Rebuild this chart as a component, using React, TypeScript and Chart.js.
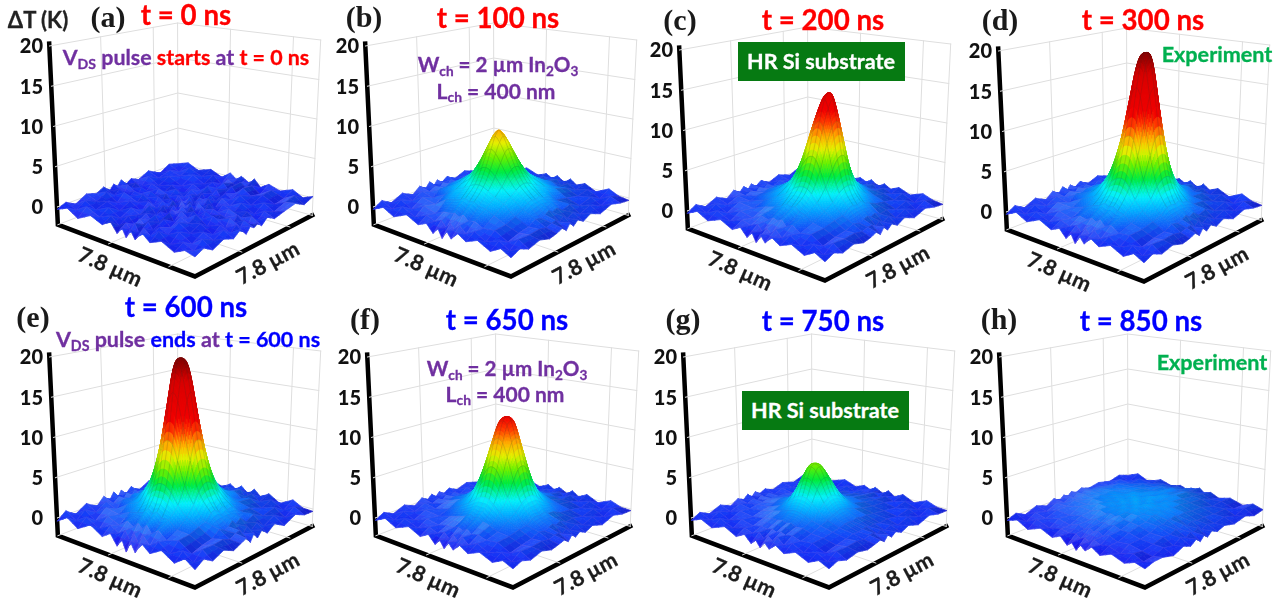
import React, { useEffect, useRef } from "react";
import { Chart, registerables } from "chart.js";

Chart.register(...registerables);

// Measurement positions across the 7.8 um square (um from the centre)
const gridUm = [-3.9, -3.32, -2.73, -2.0, -1.35, -0.88, -0.51, -0.24, 0, 0.24, 0.51, 0.88, 1.35, 2.0, 2.73, 3.32, 3.9];
const zTicks = [0, 5, 10, 15, 20];
const zFloor = -2.2;
const zTop = 20;
const wallFractionsLeft = [0.19, 0.6];
const wallFractionsRight = [0.37, 0.81];

// Temperature rise per panel, in tenths of a kelvin (rows back to front)
const dT_a = [
  [-1, 4, -3, 3, -4, 5, -2, 4, 1, -3, 5, -4, 3, -2, 4, -3, 2],
  [3, -4, 5, -2, 4, -5, 3, 0, -3, 4, -1, 3, -5, 4, -2, 5, -3],
  [-5, 3, -1, 5, -3, 2, -4, 5, -1, 3, -4, 5, -2, 3, -4, 2, 4],
  [4, -2, 4, -4, 3, -3, 5, -2, 4, -4, 2, -3, 5, -3, 4, -3, 1],
  [-3, 5, -3, 2, -5, 4, -1, 3, -5, 4, -2, 4, -2, 5, -4, 3, -2],
  [2, -4, 3, -3, 5, -2, 4, -4, 3, -1, 5, -5, 3, -2, 3, -4, 4],
  [-4, 3, -5, 4, -1, 3, -4, 5, -2, 3, -3, 4, -4, 5, -1, 4, -3],
  [5, -2, 3, -3, 4, -5, 2, -2, 4, -4, 5, -1, 3, -3, 4, -5, 2],
  [-2, 4, -4, 5, -2, 3, -3, 4, -1, 5, -3, 3, -4, 2, -3, 4, -1],
  [3, -5, 2, -1, 4, -3, 5, -4, 3, -2, 4, -5, 4, -2, 5, -2, 3],
  [-4, 2, -3, 5, -4, 4, -1, 3, -4, 5, -1, 3, -3, 5, -4, 3, -4],
  [4, -3, 5, -2, 3, -2, 4, -5, 2, -3, 4, -2, 5, -4, 2, -3, 5],
  [-1, 5, -4, 3, -5, 5, -3, 2, -4, 4, -5, 3, -1, 3, -5, 4, -2],
  [3, -2, 2, -4, 4, -1, 3, -3, 5, -2, 3, -4, 5, -3, 3, -2, 3],
  [-5, 4, -3, 5, -3, 3, -5, 4, -1, 4, -4, 2, -3, 4, -4, 5, -3],
  [2, -3, 5, -2, 4, -4, 2, -4, 5, -5, 3, -3, 5, -5, 2, -3, 4],
  [-3, 3, -5, 4, -2, 5, -6, 3, -7, 4, -6, 5, -3, 3, -4, 2, -1],
];
const dT_b = [
  [-2, 5, -3, 5, -1, 4, -1, 5, 1, -2, 5, -1, 4, -3, 5, -1, -3],
  [4, -2, 6, -1, 6, 2, 7, 3, 6, 8, 2, 6, 1, 5, -2, 4, -1],
  [-2, 5, -1, 7, 5, 9, 8, 12, 10, 10, 11, 7, 8, 2, 5, -2, 3],
  [4, 0, 7, 5, 15, 18, 21, 22, 22, 22, 20, 17, 14, 6, 1, 5, -2],
  [-2, 6, 3, 9, 22, 27, 32, 35, 36, 35, 32, 27, 22, 9, 8, 0, 4],
  [5, 1, 10, 17, 27, 36, 46, 52, 54, 52, 46, 36, 27, 17, 5, 6, -1],
  [-1, 7, 6, 20, 32, 46, 60, 70, 74, 70, 60, 46, 32, 19, 11, 2, 4],
  [5, 2, 12, 21, 35, 52, 70, 82, 88, 82, 70, 52, 35, 23, 8, 7, -1],
  [-2, 7, 8, 23, 36, 54, 74, 88, 94, 88, 74, 54, 36, 21, 12, 2, 5],
  [6, 1, 11, 22, 35, 52, 70, 82, 88, 82, 70, 52, 35, 22, 9, 6, -2],
  [-1, 6, 8, 19, 32, 46, 60, 70, 74, 70, 60, 46, 32, 21, 7, 5, 3],
  [5, 2, 9, 18, 27, 36, 46, 52, 54, 52, 46, 36, 27, 16, 9, 3, 0],
  [-3, 6, 2, 11, 22, 27, 32, 35, 36, 35, 32, 27, 22, 11, 4, 5, -2],
  [4, -1, 7, 4, 14, 17, 20, 23, 21, 22, 19, 18, 13, 7, 2, 4, 2],
  [-3, 5, -2, 7, 3, 8, 9, 11, 8, 12, 7, 9, 4, 6, -2, 5, -2],
  [4, -2, 5, -2, 5, 1, 5, -2, 5, -1, 6, -1, 5, -2, 4, -3, 3],
  [-3, 4, -3, 5, -2, 3, -6, 2, -8, 3, -5, 4, -2, 4, -3, 4, -2],
];
const dT_c = [
  [-2, 4, -2, 4, -1, 4, 0, 5, 1, -1, 4, -1, 4, -2, 4, -1, -3],
  [4, -2, 5, -1, 5, 1, 6, 2, 5, 6, 2, 5, 1, 5, -2, 4, -1],
  [-2, 5, -1, 6, 3, 8, 5, 11, 9, 9, 7, 7, 6, 2, 5, -2, 3],
  [4, 0, 6, 4, 11, 14, 18, 20, 20, 20, 18, 14, 10, 6, 1, 5, -2],
  [-2, 5, 3, 11, 18, 25, 33, 37, 38, 37, 33, 25, 18, 9, 6, 0, 4],
  [5, 1, 8, 14, 25, 40, 58, 69, 72, 69, 58, 40, 25, 14, 5, 6, -1],
  [-1, 6, 5, 18, 33, 58, 88, 106, 112, 106, 88, 58, 33, 17, 9, 2, 4],
  [5, 1, 10, 19, 37, 69, 106, 128, 138, 128, 106, 69, 37, 21, 7, 6, -1],
  [-2, 6, 7, 20, 38, 72, 112, 138, 145, 138, 112, 72, 38, 19, 10, 2, 5],
  [5, 1, 9, 20, 37, 69, 106, 128, 138, 128, 106, 69, 37, 20, 8, 5, -2],
  [-1, 5, 7, 17, 33, 58, 88, 106, 112, 106, 88, 58, 33, 19, 6, 5, 3],
  [5, 2, 6, 15, 25, 40, 58, 69, 72, 69, 58, 40, 25, 13, 8, 3, 0],
  [-3, 5, 3, 9, 18, 25, 33, 37, 38, 37, 33, 25, 18, 11, 4, 5, -2],
  [4, -1, 6, 4, 10, 13, 17, 21, 19, 21, 17, 15, 9, 7, 2, 4, 2],
  [-3, 5, -2, 6, 2, 8, 6, 10, 8, 11, 5, 9, 3, 6, -2, 5, -2],
  [4, -2, 5, -2, 4, 1, 5, -2, 4, -1, 6, -1, 5, -2, 4, -3, 3],
  [-3, 4, -3, 4, -3, 3, -6, 2, -8, 3, -5, 4, -2, 4, -3, 4, -2],
];
const dT_d = [
  [-2, 5, -3, 5, -1, 4, -1, 5, 1, -2, 5, -1, 4, -3, 5, -1, -3],
  [4, -2, 6, -1, 6, 2, 7, 3, 6, 8, 2, 6, 1, 5, -2, 4, -1],
  [-2, 5, -1, 7, 4, 10, 6, 12, 10, 10, 11, 7, 8, 2, 5, -2, 3],
  [4, 0, 7, 5, 12, 15, 20, 22, 22, 22, 20, 16, 10, 8, 1, 5, -2],
  [-2, 6, 3, 12, 20, 30, 42, 48, 50, 48, 42, 30, 21, 10, 8, 0, 4],
  [5, 1, 10, 15, 30, 50, 76, 94, 98, 94, 76, 50, 30, 17, 5, 6, -1],
  [-1, 7, 6, 21, 42, 76, 115, 145, 155, 145, 115, 76, 42, 19, 11, 2, 4],
  [5, 2, 12, 21, 48, 94, 145, 180, 190, 180, 145, 94, 48, 23, 8, 7, -1],
  [-2, 7, 8, 23, 50, 98, 155, 190, 196, 190, 155, 98, 50, 21, 12, 2, 5],
  [6, 1, 11, 22, 48, 94, 145, 180, 190, 180, 145, 94, 48, 22, 9, 6, -2],
  [-1, 6, 8, 19, 42, 76, 115, 145, 155, 145, 115, 76, 42, 21, 7, 5, 3],
  [5, 2, 9, 16, 30, 50, 76, 94, 98, 94, 76, 50, 30, 15, 9, 3, 0],
  [-3, 6, 2, 12, 20, 30, 42, 48, 50, 48, 42, 30, 20, 11, 4, 5, -2],
  [4, -1, 7, 6, 11, 16, 19, 23, 21, 22, 19, 17, 10, 7, 2, 4, 2],
  [-3, 5, -2, 7, 3, 9, 7, 11, 8, 12, 6, 10, 4, 6, -2, 5, -2],
  [4, -2, 5, -2, 5, 1, 5, -2, 5, -1, 6, -1, 5, -2, 4, -3, 3],
  [-3, 4, -3, 5, -2, 3, -6, 2, -8, 3, -5, 4, -2, 4, -3, 4, -2],
];
const dT_e = [
  [-3, 5, -4, 6, -2, 5, -1, 6, 1, -3, 6, -2, 5, -4, 5, -2, -3],
  [5, -3, 7, -2, 7, 1, 8, 2, 7, 9, 1, 7, 0, 6, -3, 5, -2],
  [-3, 6, -2, 8, 3, 11, 5, 13, 10, 11, 12, 6, 9, 1, 6, -3, 4],
  [5, -1, 8, 4, 13, 14, 21, 22, 23, 22, 21, 15, 11, 7, 2, 6, -3],
  [-3, 7, 2, 13, 20, 31, 43, 49, 51, 49, 43, 31, 21, 9, 9, -1, 5],
  [6, 0, 11, 14, 31, 51, 78, 96, 100, 96, 78, 51, 31, 18, 4, 7, -2],
  [-2, 8, 5, 22, 43, 78, 117, 147, 157, 147, 117, 78, 43, 18, 12, 1, 5],
  [6, 1, 13, 20, 49, 96, 147, 182, 191, 182, 147, 96, 49, 24, 7, 8, -2],
  [-3, 8, 7, 24, 51, 100, 157, 191, 197, 191, 157, 100, 51, 20, 13, 1, 6],
  [7, 0, 12, 21, 49, 96, 147, 182, 191, 182, 147, 96, 49, 23, 8, 7, -3],
  [-2, 7, 7, 20, 43, 78, 117, 147, 157, 147, 117, 78, 43, 22, 6, 6, 4],
  [6, 1, 10, 15, 31, 51, 78, 96, 100, 96, 78, 51, 31, 14, 10, 2, 1],
  [-4, 7, 1, 13, 20, 31, 43, 49, 51, 49, 43, 31, 20, 12, 3, 6, -3],
  [5, -2, 8, 5, 12, 15, 18, 24, 20, 23, 18, 18, 9, 8, 1, 5, 3],
  [-4, 6, -3, 8, 2, 10, 6, 12, 7, 13, 5, 11, 3, 7, -3, 6, -3],
  [5, -3, 6, -3, 6, 0, 6, -4, 6, -4, 7, -2, 6, -3, 5, -4, 4],
  [-4, 5, -4, 6, -3, 4, -8, 2, -11, 3, -8, 5, -3, 5, -4, 5, -3],
];
const dT_f = [
  [-2, 4, -2, 4, -2, 4, -1, 4, 1, -2, 4, -2, 4, -3, 4, -1, -2],
  [4, -3, 5, -2, 5, 1, 5, 2, 4, 5, 1, 5, 0, 4, -2, 3, -1],
  [-2, 4, -1, 5, 3, 6, 5, 8, 7, 8, 6, 5, 5, 1, 4, -2, 3],
  [3, 0, 5, 3, 8, 11, 14, 16, 16, 16, 14, 11, 8, 5, 1, 4, -2],
  [-2, 5, 2, 11, 15, 22, 29, 33, 34, 33, 29, 22, 15, 7, 5, 0, 3],
  [4, 0, 7, 11, 22, 36, 54, 65, 68, 65, 54, 36, 22, 12, 4, 5, -1],
  [-1, 5, 4, 14, 29, 54, 80, 96, 100, 96, 80, 54, 29, 13, 8, 1, 3],
  [4, 1, 8, 15, 33, 65, 96, 116, 120, 116, 96, 65, 33, 17, 6, 5, -1],
  [-2, 5, 6, 17, 34, 68, 100, 120, 124, 120, 100, 68, 34, 15, 9, 1, 4],
  [4, 0, 8, 16, 33, 65, 96, 116, 120, 116, 96, 65, 33, 16, 7, 4, -2],
  [-1, 4, 6, 13, 29, 54, 80, 96, 100, 96, 80, 54, 29, 15, 5, 4, 2],
  [4, 1, 5, 12, 22, 36, 54, 65, 68, 65, 54, 36, 22, 10, 7, 2, 0],
  [-3, 5, 2, 7, 15, 22, 29, 33, 34, 33, 29, 22, 15, 9, 3, 4, -2],
  [3, -1, 5, 3, 7, 10, 13, 17, 15, 17, 13, 11, 7, 6, 1, 3, 2],
  [-3, 4, -2, 5, 2, 5, 5, 7, 5, 8, 4, 6, 3, 5, -2, 4, -2],
  [3, -2, 4, -2, 4, 0, 4, -2, 4, -1, 5, -1, 4, -2, 3, -3, 2],
  [-3, 4, -3, 4, -3, 3, -6, 1, -7, 2, -5, 3, -3, 3, -3, 3, -2],
];
const dT_g = [
  [-2, 4, -2, 4, -2, 3, -1, 4, 1, -2, 4, -2, 4, -3, 4, -1, -2],
  [3, -3, 4, -2, 4, 0, 4, 2, 3, 5, 1, 4, 0, 4, -2, 3, -1],
  [-2, 4, -1, 4, 2, 5, 4, 6, 5, 7, 5, 5, 4, 1, 4, -2, 3],
  [3, 0, 4, 3, 6, 9, 9, 10, 9, 10, 9, 8, 6, 4, 1, 4, -2],
  [-2, 4, 2, 8, 9, 12, 15, 17, 18, 17, 15, 12, 9, 6, 4, 0, 3],
  [3, 0, 4, 7, 12, 20, 27, 31, 32, 31, 27, 20, 12, 8, 3, 4, -1],
  [-1, 4, 4, 8, 15, 27, 41, 49, 52, 49, 41, 27, 15, 8, 5, 1, 3],
  [4, 1, 5, 9, 17, 31, 49, 60, 64, 60, 49, 31, 17, 10, 4, 4, -1],
  [-2, 4, 5, 10, 18, 32, 52, 64, 66, 64, 52, 32, 18, 8, 6, 1, 4],
  [4, 0, 5, 10, 17, 31, 49, 60, 64, 60, 49, 31, 17, 9, 5, 4, -2],
  [-1, 4, 4, 8, 15, 27, 41, 49, 52, 49, 41, 27, 15, 9, 4, 4, 2],
  [3, 1, 4, 6, 12, 20, 27, 31, 32, 31, 27, 20, 12, 7, 5, 2, 0],
  [-3, 4, 2, 5, 9, 12, 15, 17, 18, 17, 15, 12, 9, 6, 3, 4, -2],
  [3, -1, 4, 2, 5, 8, 8, 10, 8, 10, 7, 8, 5, 4, 1, 3, 1],
  [-3, 4, -2, 4, 1, 4, 3, 5, 3, 5, 3, 5, 2, 4, -2, 4, -2],
  [3, -2, 4, -2, 3, 0, 4, -2, 3, -1, 5, -1, 4, -2, 3, -3, 2],
  [-3, 3, -3, 4, -3, 3, -5, 1, -6, 2, -4, 3, -3, 3, -3, 3, -2],
];
const dT_h = [
  [-2, 4, -3, 4, -1, 3, 0, 3, 3, 6, 1, 4, -1, 3, -2, 3, -1],
  [3, -2, 5, 3, 7, 5, 8, 6, 9, 7, 6, 7, 3, 4, -1, 3, -3],
  [-1, 5, 4, 8, 8, 11, 10, 12, 10, 11, 12, 9, 8, 3, 4, -1, 2],
  [3, 3, 9, 10, 12, 12, 13, 15, 14, 13, 14, 12, 10, 8, 4, 4, -1],
  [0, 6, 9, 12, 14, 14, 16, 14, 15, 17, 15, 14, 13, 9, 6, 2, 3],
  [4, 6, 11, 13, 14, 17, 15, 16, 18, 16, 14, 16, 13, 11, 6, 5, 0],
  [0, 8, 10, 14, 15, 16, 18, 17, 15, 18, 16, 15, 15, 10, 8, 2, 4],
  [4, 5, 12, 12, 16, 15, 17, 19, 17, 14, 17, 16, 13, 12, 5, 6, -1],
  [-1, 8, 9, 14, 14, 17, 16, 17, 19, 16, 18, 14, 15, 10, 8, 3, 3],
  [3, 4, 11, 11, 15, 14, 18, 15, 16, 18, 15, 16, 13, 11, 5, 5, -2],
  [-2, 6, 7, 13, 13, 16, 14, 17, 15, 16, 17, 13, 14, 8, 7, 1, 3],
  [3, 2, 9, 9, 14, 13, 15, 14, 16, 14, 14, 14, 10, 9, 4, 4, -2],
  [-3, 5, 5, 10, 9, 13, 11, 13, 11, 14, 11, 10, 9, 5, 5, -1, 2],
  [2, -1, 5, 4, 8, 6, 10, 7, 9, 7, 9, 6, 6, 3, 2, 2, -3],
  [-4, 3, 0, 5, 2, 6, 3, 6, 3, 6, 2, 5, 1, 3, 0, -2, 1],
  [2, -4, 3, -2, 2, 0, 2, -2, 1, -2, 2, -1, 1, -3, 2, -3, 1],
  [-3, 2, -5, 2, -4, 1, -7, -2, -9, -1, -6, 1, -5, 1, -4, 1, -2],
];

const panelTimes = ["0", "100", "200", "300", "600", "650", "750", "850"];
const panelLetters = ["(a)", "(b)", "(c)", "(d)", "(e)", "(f)", "(g)", "(h)"];
const panelGrids = [dT_a, dT_b, dT_c, dT_d, dT_e, dT_f, dT_g, dT_h];

// ---- layout (pixels of the page) ----
const CANVAS_W = 345;
const CANVAS_H = 290;
const AXIS_W = 47;
const Z0_PX = 208;
const PX_PER_K = 8.05;
const panelDx = [0, 316, 630, 949, 0, 318, 634, 950];
const panelDy = [0, 0, 4, 5, 311, 311, 311, 311];
const peakShift = [0, -1.5, 6.5, 5.5, -2.5, 1.5, -2.5, 0];

const cornerB = { x: 178, y: 163, h: 7 };
const cornerR = { x: 313, y: 198, h: 7.9 };
const cornerL = { x: 57, y: 207, h: 8.05 };
const cornerF = { x: 195, y: 256, h: 9.3 };

function bil(u: number, v: number, k: "x" | "y" | "h") {
  return (1 - u) * (1 - v) * cornerB[k] + u * (1 - v) * cornerR[k] + (1 - u) * v * cornerL[k] + u * v * cornerF[k];
}
function project(u: number, v: number, z: number) {
  const x0 = bil(u, v, "x");
  const y0 = bil(u, v, "y");
  const h = bil(u, v, "h");
  return { x: x0 + (x0 - 185) * 0.003 * z, y: (Z0_PX - (y0 - z * h)) / PX_PER_K };
}
function surfaceXY(uUm: number, vUm: number, z: number, d: number) {
  const w = (1 - Math.abs(uUm) / 3.9) * (1 - Math.abs(vUm) / 3.9) * 2;
  return project((uUm + 3.9) / 7.8 + d * w, (vUm + 3.9) / 7.8 - d * w, z);
}

const colorStops: [number, number, number, number][] = [
  [-1.2, 30, 5, 205],
  [-0.3, 25, 30, 240],
  [0.3, 20, 65, 248],
  [1, 15, 110, 248],
  [2, 0, 175, 255],
  [3.2, 0, 240, 250],
  [4, 0, 240, 170],
  [5, 0, 235, 60],
  [6.5, 110, 240, 0],
  [8, 230, 240, 0],
  [9.5, 255, 170, 0],
  [11, 255, 60, 0],
  [12.5, 240, 0, 0],
  [17, 215, 0, 0],
  [19, 150, 0, 0],
  [20.5, 110, 10, 10],
];
function jet(z: number, light: number) {
  let a = colorStops[0];
  let b = colorStops[colorStops.length - 1];
  if (z <= a[0]) b = a;
  else if (z >= b[0]) a = b;
  else
    for (let i = 0; i < colorStops.length - 1; i++) {
      if (z >= colorStops[i][0] && z <= colorStops[i + 1][0]) {
        a = colorStops[i];
        b = colorStops[i + 1];
        break;
      }
    }
  const t = a === b ? 0 : (z - a[0]) / (b[0] - a[0]);
  const mix = (i: number) => {
    const c = a[i] + (b[i] - a[i]) * t;
    return Math.round(light >= 0 ? c + (255 - c) * light : c * (1 + light));
  };
  return `rgb(${mix(1)},${mix(2)},${mix(3)})`;
}

// Smooth mesh shading between the measured nodes
function cubic(vals: (i: number) => number, i: number, t: number, last: number) {
  const h = gridUm[i + 1] - gridUm[i];
  const p0 = vals(i);
  const p1 = vals(i + 1);
  const m0 = i > 0 ? (p1 - vals(i - 1)) / (gridUm[i + 1] - gridUm[i - 1]) : (p1 - p0) / h;
  const m1 = i + 1 < last ? (vals(i + 2) - p0) / (gridUm[i + 2] - gridUm[i]) : (p1 - p0) / h;
  const t2 = t * t;
  const t3 = t2 * t;
  return (2 * t3 - 3 * t2 + 1) * p0 + (t3 - 2 * t2 + t) * h * m0 + (-2 * t3 + 3 * t2) * p1 + (t3 - t2) * h * m1;
}

const surfacePlugin = {
  id: "surface3d",
  afterDatasetsDraw(chart: any) {
    const { grid, shift } = chart.options.plugins.surface3d;
    const pts = chart.getDatasetMeta(0).data;
    const n = grid.length;
    const ctx = chart.ctx;
    const sx = chart.scales.x;
    const sy = chart.scales.y;
    const quad = (a: any, b: any, c: any, d: any, col: string) => {
      ctx.beginPath();
      ctx.moveTo(a.x, a.y);
      ctx.lineTo(b.x, b.y);
      ctx.lineTo(c.x, c.y);
      ctx.lineTo(d.x, d.y);
      ctx.closePath();
      ctx.fillStyle = col;
      ctx.strokeStyle = col;
      ctx.lineWidth = 0.7;
      ctx.fill();
      ctx.stroke();
    };
    ctx.save();
    ctx.lineJoin = "round";
    for (let r = 0; r < n - 1; r++) {
      for (let c = 0; c < n - 1; c++) {
        const z00 = grid[r][c] / 10;
        const z01 = grid[r][c + 1] / 10;
        const z10 = grid[r + 1][c] / 10;
        const z11 = grid[r + 1][c + 1] / 10;
        const zAvg = (z00 + z01 + z10 + z11) / 4;
        const zMax = Math.max(z00, z01, z10, z11);
        if (zMax >= 1.5) {
          const SUB = 5;
          const table: { x: number; y: number; z: number }[][] = [];
          for (let i = 0; i <= SUB; i++) {
            const row: { x: number; y: number; z: number }[] = [];
            for (let j = 0; j <= SUB; j++) {
              const s = j / SUB;
              const t = i / SUB;
              const rowAt = (rr: number) => cubic((k) => grid[rr][k], c, s, n - 1);
              const z = cubic(rowAt, r, t, n - 1) / 10;
              const uUm = gridUm[c] + (gridUm[c + 1] - gridUm[c]) * s;
              const vUm = gridUm[r] + (gridUm[r + 1] - gridUm[r]) * t;
              const q = surfaceXY(uUm, vUm, z, shift);
              row.push({ x: sx.getPixelForValue(q.x), y: sy.getPixelForValue(q.y), z });
            }
            table.push(row);
          }
          for (let i = 0; i < SUB; i++) {
            for (let j = 0; j < SUB; j++) {
              const a = table[i][j];
              const b = table[i][j + 1];
              const d = table[i + 1][j + 1];
              const e = table[i + 1][j];
              quad(a, b, d, e, jet((a.z + b.z + d.z + e.z) / 4, 0));
            }
          }
          ctx.beginPath();
          ctx.moveTo(table[SUB][0].x, table[SUB][0].y);
          for (let i = SUB - 1; i >= 0; i--) ctx.lineTo(table[i][0].x, table[i][0].y);
          for (let j = 1; j <= SUB; j++) ctx.lineTo(table[0][j].x, table[0][j].y);
          ctx.strokeStyle = zAvg > 2.5 ? "rgba(40,50,40,0.28)" : "rgba(120,110,190,0.2)";
          ctx.lineWidth = 0.6;
          ctx.stroke();
        } else {
          const p00 = pts[r * n + c];
          const p01 = pts[r * n + c + 1];
          const p10 = pts[(r + 1) * n + c];
          const p11 = pts[(r + 1) * n + c + 1];
          const du = gridUm[c + 1] - gridUm[c];
          const dv = gridUm[r + 1] - gridUm[r];
          const slope = ((z01 + z11 - z00 - z10) / 2 / du - (z10 + z11 - z00 - z01) / 2 / dv) * 0.14;
          const light = Math.max(-0.14, Math.min(0.16, slope));
          const SUB = 2;
          const at = (s: number, t: number) => ({
            x: (1 - s) * (1 - t) * p00.x + s * (1 - t) * p01.x + (1 - s) * t * p10.x + s * t * p11.x,
            y: (1 - s) * (1 - t) * p00.y + s * (1 - t) * p01.y + (1 - s) * t * p10.y + s * t * p11.y,
          });
          for (let i = 0; i < SUB; i++) {
            for (let j = 0; j < SUB; j++) {
              const s0 = j / SUB;
              const s1 = (j + 1) / SUB;
              const t0 = i / SUB;
              const t1 = (i + 1) / SUB;
              const sm = (s0 + s1) / 2;
              const tm = (t0 + t1) / 2;
              const z = (1 - sm) * (1 - tm) * z00 + sm * (1 - tm) * z01 + (1 - sm) * tm * z10 + sm * tm * z11;
              quad(at(s0, t0), at(s1, t0), at(s1, t1), at(s0, t1), jet(z, light));
            }
          }
          ctx.beginPath();
          ctx.moveTo(p00.x, p00.y);
          ctx.lineTo(p01.x, p01.y);
          ctx.lineTo(p11.x, p11.y);
          ctx.lineTo(p10.x, p10.y);
          ctx.closePath();
          ctx.strokeStyle = "rgba(170,110,200,0.2)";
          ctx.lineWidth = 0.6;
          ctx.stroke();
        }
      }
    }
    ctx.restore();
  },
};

function lineDs(points: { x: number; y: number }[], color: string, width: number) {
  return {
    type: "scatter" as const,
    data: points,
    showLine: true,
    pointRadius: 0,
    borderColor: color,
    borderWidth: width,
    borderJoinStyle: "miter" as const,
    borderCapStyle: "square" as const,
    clip: false as any,
  };
}

function Panel({ idx }: { idx: number }) {
  const ref = useRef<HTMLCanvasElement>(null);
  useEffect(() => {
    const grid = panelGrids[idx];
    const shift = peakShift[idx] / 256;
    const surface: { x: number; y: number }[] = [];
    gridUm.forEach((vUm, r) => {
      gridUm.forEach((uUm, c) => {
        surface.push(surfaceXY(uUm, vUm, grid[r][c] / 10, shift));
      });
    });
    const wall = "#dedede";
    const ds: any[] = [
      { type: "scatter", data: surface, pointRadius: 0, showLine: false, clip: false },
    ];
    zTicks.forEach((z) => {
      ds.push(lineDs([project(0, 1, z), project(0, 0, z), project(1, 0, z)], wall, 1));
    });
    [...wallFractionsLeft, 0].forEach((f) => {
      ds.push(lineDs([project(0, f, zFloor), project(0, f, zTop)], wall, 1));
    });
    [...wallFractionsRight, 1].forEach((f) => {
      ds.push(lineDs([project(f, 0, zFloor), project(f, 0, zTop)], wall, 1));
    });
    wallFractionsLeft.forEach((f) => {
      ds.push(lineDs([project(0, f, zFloor), project(1, f, zFloor)], wall, 1));
    });
    wallFractionsRight.forEach((f) => {
      ds.push(lineDs([project(f, 0, zFloor), project(f, 1, zFloor)], wall, 1));
    });
    ds.push(lineDs([project(0, 0, zFloor), project(0, 1, zFloor)], wall, 1));
    ds.push(lineDs([project(0, 0, zFloor), project(1, 0, zFloor)], wall, 1));
    ds.push(
      lineDs(
        [project(0, 1, zTop + 0.3), project(0, 1, zFloor), project(1, 1, zFloor), project(1, 0, zFloor)],
        "#000",
        4.5
      )
    );

    const chart = new Chart(ref.current as HTMLCanvasElement, {
      type: "scatter",
      data: { datasets: ds },
      plugins: [surfacePlugin as any],
      options: {
        animation: false,
        responsive: false,
        events: [],
        layout: { padding: 0 },
        plugins: {
          legend: { display: false },
          tooltip: { enabled: false },
          surface3d: { grid, shift },
        } as any,
        scales: {
          x: { type: "linear", display: false, min: AXIS_W, max: CANVAS_W },
          y: {
            type: "linear",
            min: (Z0_PX - CANVAS_H) / PX_PER_K,
            max: Z0_PX / PX_PER_K,
            grid: { display: false, drawTicks: false },
            border: { display: false },
            afterBuildTicks: (s: any) => {
              s.ticks = zTicks.map((value) => ({ value }));
            },
            afterFit: (s: any) => {
              s.width = AXIS_W;
              s.paddingTop = 0;
              s.paddingBottom = 0;
            },
            ticks: {
              padding: 4,
              autoSkip: false,
              color: "#111",
              font: { family: "Lato", weight: "900", size: 20 },
              callback: (v: any) => String(v),
            },
          },
        },
      },
    });
    return () => chart.destroy();
  }, [idx]);
  return (
    <canvas
      ref={ref}
      width={CANVAS_W}
      height={CANVAS_H}
      style={{ position: "absolute", left: panelDx[idx], top: panelDy[idx], width: CANVAS_W, height: CANVAS_H, display: "block" }}
    />
  );
}

const PURPLE = "#7030A0";
const RED = "#FF0000";
const BLUE = "#0000FF";
const EXPERIMENT = "#00B050";
const BOXGREEN = "#067A12";

function T({ x, y, size, color, rot, serif, children }: any) {
  return (
    <div
      style={{
        position: "absolute",
        left: x,
        top: y,
        transform: `translate(-50%,-50%)${rot ? ` rotate(${rot}deg)` : ""}`,
        whiteSpace: "nowrap",
        fontFamily: serif ? "'Liberation Serif'" : "Lato",
        fontWeight: 700,
        fontSize: size,
        lineHeight: 1,
        color,
        WebkitTextStroke: serif ? undefined : "0.3px currentColor",
      }}
    >
      {children}
    </div>
  );
}
const Sub = ({ children }: any) => (
  <span style={{ fontSize: "0.66em", verticalAlign: "-0.28em", lineHeight: 0 }}>{children}</span>
);

const titleX = [186, 498, 823, 1143, 186, 507, 823, 1141];
const titleY = [15, 18, 20, 20, 307, 320, 321, 321];
const letterX = [108, 364, 680, 1000, 33, 365, 683, 999];
const letterY = [17, 17, 20, 20, 317, 319, 319, 319];

function GeometryText() {
  return (
    <>
      <T x={38} y={20} size={22} color="#222">ΔT (K)</T>
      <T x={186} y={58} size={21.4} color={PURPLE}>
        V<Sub>DS</Sub> pulse <span style={{ color: RED }}>starts</span> at <span style={{ color: RED }}>t = 0 ns</span>
      </T>
      <T x={188} y={340} size={21.5} color={PURPLE}>
        V<Sub>DS</Sub> pulse <span style={{ color: BLUE }}>ends</span> at <span style={{ color: BLUE }}>t = 600 ns</span>
      </T>
      {[[498, 64, 496, 90], [507, 368, 505, 393]].map(([x1, y1, x2, y2], i) => (
        <React.Fragment key={i}>
          <T x={x1} y={y1} size={20.6} color={PURPLE}>W<Sub>ch</Sub> = 2 µm In<Sub>2</Sub>O<Sub>3</Sub></T>
          <T x={x2} y={y2} size={21} color={PURPLE}>L<Sub>ch</Sub> = 400 nm</T>
        </React.Fragment>
      ))}
      {[[738, 42], [742, 391]].map(([x, y], i) => (
        <div key={i} style={{ position: "absolute", left: x, top: y, width: 167, height: 39, background: BOXGREEN }}>
          <T x={83} y={20} size={21.6} color="#fff">HR Si substrate</T>
        </div>
      ))}
      <T x={1217} y={55} size={21.6} color={EXPERIMENT}>Experiment</T>
      <T x={1212} y={363} size={21.6} color={EXPERIMENT}>Experiment</T>
    </>
  );
}

export default function App() {
  return (
    <div style={{ position: "absolute", left: 0, top: 0, width: 1279, height: 599, overflow: "hidden", background: "#fff", filter: "blur(0.35px)" }}>
      {panelGrids.map((_, i) => (
        <Panel key={i} idx={i} />
      ))}
      {panelTimes.map((t, i) => (
        <T key={t} x={titleX[i]} y={titleY[i]} size={27.7} color={i < 4 ? RED : BLUE}>{`t = ${t} ns`}</T>
      ))}
      {panelLetters.map((l, i) => (
        <T key={l} x={letterX[i]} y={letterY[i]} size={30} color="#1a1a1a" serif>{l}</T>
      ))}
      {panelDx.map((dx, i) => (
        <React.Fragment key={i}>
          <T x={dx + 110} y={panelDy[i] + 267} size={21.5} color="#1c1c1c" rot={24}>7.8 µm</T>
          <T x={dx + 268} y={panelDy[i] + 263} size={21.5} color="#1c1c1c" rot={-28}>7.8 µm</T>
        </React.Fragment>
      ))}
      <GeometryText />
    </div>
  );
}
